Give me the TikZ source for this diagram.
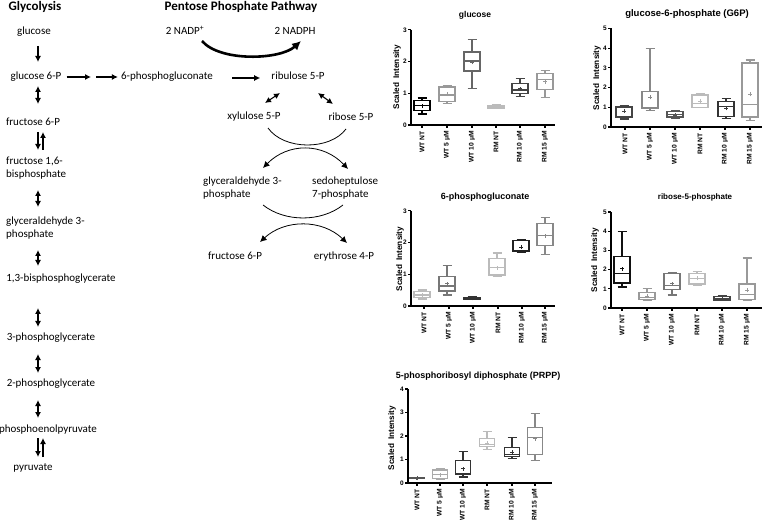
\documentclass[tikz,border=0pt]{standalone}
\usepackage{fontspec}
\setmainfont{Carlito}
\newfontfamily\plotfont{Liberation Sans}
\usetikzlibrary{arrows.meta,calc}
\definecolor{c111}{HTML}{111111}
\definecolor{c222}{HTML}{222222}
\definecolor{c333}{HTML}{333333}
\definecolor{c444}{HTML}{444444}
\definecolor{c555}{HTML}{555555}
\definecolor{c666}{HTML}{666666}
\definecolor{c777}{HTML}{777777}
\definecolor{c888}{HTML}{888888}
\definecolor{c999}{HTML}{999999}
\definecolor{caaa}{HTML}{AAAAAA}
\definecolor{cbbb}{HTML}{BBBBBB}
\newcommand\bw{8}
\newcommand\cw{4.5}
\newcommand\boxplt[8]{%
  \draw[bxl,draw=#2] ({#1-\bw},#4) rectangle ({#1+\bw},#6)
     ({#1-\bw},#5) -- ({#1+\bw},#5)
     (#1,#6) -- (#1,#7) ({#1-\cw},#7) -- ({#1+\cw},#7)
     (#1,#4) -- (#1,#3) ({#1-\cw},#3) -- ({#1+\cw},#3);
  \draw[mnl,draw=#2] ([xshift=-2pt]#1,#8) -- ([xshift=2pt]#1,#8)
     ([yshift=-2pt]#1,#8) -- ([yshift=2pt]#1,#8);
}
\begin{document}
\begin{tikzpicture}[x=1pt,y=-1pt,
  lbl/.style={inner sep=0pt, text height=8pt, text depth=2.5pt, font=\fontsize{11}{12.5}\selectfont},
  lbll/.style={inner sep=0pt, align=left, anchor=west, font=\fontsize{11}{12.5}\selectfont},
  hdr/.style={inner sep=0pt, font=\fontsize{13}{15}\selectfont\bfseries},
  arr/.style={line width=1.1pt, -{Latex[length=6pt,width=6pt]}},
  darr/.style={line width=1.1pt, {Latex[length=6pt,width=6pt]}-{Latex[length=6pt,width=6pt]}},
  arc/.style={line width=0.8pt},
  darc/.style={line width=0.8pt, {Latex[length=6.5pt,width=6.5pt]}-{Latex[length=6.5pt,width=6.5pt]}},
  nadarr/.style={line width=2.6pt, -{Latex[length=9pt,width=9pt]}},
  axl/.style={line width=1.2pt},
  bxl/.style={line width=1.3pt},
  mnl/.style={line width=1pt},
  tkl/.style={inner sep=0pt, anchor=east, font=\plotfont\bfseries\fontsize{6.5}{7}\selectfont},
  xlab/.style={inner sep=0pt, anchor=east, rotate=90, font=\plotfont\bfseries\fontsize{6.7}{7}\selectfont},
  ylab/.style={inner sep=0pt, rotate=90, font=\plotfont\bfseries\fontsize{8.2}{9}\selectfont},
  ptitle/.style={inner sep=0pt, font=\plotfont\bfseries\fontsize{#1}{11}\selectfont},
]
\fill[white] (0,0) rectangle (763,521);
\useasboundingbox (0,0) rectangle (763,521);

% ---------------- Glycolysis
\node[hdr] (hgly) at (35,7) {Glycolysis};
\node[lbl] (glc) at (34,32) {glucose};
\node[lbl] (g6p) at (36,77) {glucose 6-P};
\node[lbl] (f6p) at (33,123) {fructose 6-P};
\node[lbll] (fbp) at (6,168) {fructose 1,6-\\bisphosphate};
\node[lbll] (gap) at (6,228) {glyceraldehyde 3-\\phosphate};
\node[lbl] (bpg) at (61,279) {1,3-bisphosphoglycerate};
\node[lbl] (pgt) at (51,338) {3-phosphoglycerate};
\node[lbl] (pgw) at (51,384) {2-phosphoglycerate};
\node[lbl] (pep) at (48,430) {phosphoenolpyruvate};
\node[lbl] (pyr) at (33,468) {pyruvate};
\coordinate (gx) at (38,0);
\coordinate (gy) at (43,0);
\draw[arr] ($(glc.center -| gx)+(0,14)$) -- ($(g6p.center -| gx)+(0,-15)$);
\draw[darr] ($(g6p.center -| gx)+(0,9)$) -- ($(f6p.center -| gx)+(0,-19)$);
\draw[arr] ($(f6p.center -| gx)+(0,9)$) -- ($(fbp.center -| gx)+(0,-18)$);
\draw[arr] ($(fbp.center -| gy)+(0,-18)$) -- ($(f6p.center -| gy)+(0,9)$);
\draw[darr] ($(fbp.center -| gx)+(0,22)$) -- ($(gap.center -| gx)+(0,-21)$);
\draw[darr] ($(gap.center -| gx)+(0,22)$) -- ($(bpg.center -| gx)+(0,-13)$);
\draw[darr] ($(bpg.center -| gx)+(0,29)$) -- ($(pgt.center -| gx)+(0,-11)$);
\draw[darr] ($(pgt.center -| gx)+(0,16)$) -- ($(pgw.center -| gx)+(0,-11)$);
\draw[darr] ($(pgw.center -| gx)+(0,16)$) -- ($(pep.center -| gx)+(0,-12)$);
\draw[arr] ($(pep.center -| gx)+(0,8)$) -- ($(pyr.center -| gx)+(0,-11)$);
\draw[arr] ($(pyr.center -| gy)+(0,-11)$) -- ($(pep.center -| gy)+(0,8)$);

% ---------------- Pentose phosphate pathway
\node[hdr] (hppp) at (241,7) {Pentose Phosphate Pathway};
\node[lbl] (nadp) at (185,32) {2 NADP\textsuperscript{+}};
\node[lbl] (nadph) at (295,32) {2 NADPH};
\node[lbl] (pgn) at (167,77) {6-phosphogluconate};
\node[lbl] (ru5p) at (298,77) {ribulose 5-P};
\node[lbl] (xu5p) at (254,117) {xylulose 5-P};
\node[lbl] (r5p) at (351,118) {ribose 5-P};
\node[lbll] (g3p) at (203,188) {glyceraldehyde 3-\\phosphate};
\node[lbll] (s7p) at (312,188) {sedoheptulose\\7-phosphate};
\node[lbl] (f6q) at (235,257) {fructose 6-P};
\node[lbl] (e4p) at (344,257) {erythrose 4-P};

\coordinate (m1) at (91,77);
\coordinate (m2) at (96,77);
\draw[arr] ($(g6p.east)+(5,0)$) -- (m1);
\draw[arr] (m2) -- ($(pgn.west)+(-3,0)$);
\draw[arr] ($(pgn.east)+(19,1)$) -- ($(ru5p.west)+(-11,1)$);
\draw[darr] ($(ru5p.center)+(-18,16)$) -- ($(xu5p.center)+(11,-14)$);
\draw[darr] ($(ru5p.center)+(20,16)$) -- ($(r5p.center)+(-18,-14)$);
\draw[nadarr] ($(nadp.center)+(17,9)$) .. controls (220,62) and (280,60) .. ($(nadph.center)+(6,9)$);

\coordinate (a1s) at (268,128);
\coordinate (a1e) at (346,129);
\coordinate (a2s) at (263,168);
\coordinate (a2e) at (348,169);
\coordinate (a3s) at (263,205);
\coordinate (a3e) at (343,205);
\coordinate (a4s) at (260,242);
\coordinate (a4e) at (347,243);
\draw[arc] (a1s) .. controls (284,150.5) and (330,150.5) .. (a1e);
\draw[darc] (a2s) .. controls (288,142.5) and (323,142.5) .. (a2e);
\draw[arc] (a3s) .. controls (285,222.3) and (321,222.3) .. (a3e);
\draw[darc] (a4s) .. controls (285,219) and (322,219) .. (a4e);

% ---------------- Plot A: glucose
\node[ptitle=8.5] (pA-t) at (475,15) {glucose};
\node[ylab] (pA-yl) at (397,77) {Scaled\enspace Intensity};
\begin{scope}[yshift=-125pt, y=31.7pt]
  \draw[axl] (411,3) -- (411,0) -- (555,0);
  \foreach \v in {0,...,3} {\draw[axl] (411,\v) -- ++(-3pt,0pt);
    \node[tkl] (pA-y\v) at ([xshift=-4pt]411,\v) {\v};}
  \foreach \xx/\t [count=\i] in {422/WT NT,447/WT 5 μM,472/WT 10 μM,496/RM NT,520/RM 10 μM,545/RM 15 μM} {
    \draw[axl] (\xx,0) -- ++(0pt,-3pt);
    \node[xlab] (pA-x\i) at ([yshift=-6pt]\xx,0) {\t};}
  \boxplt{422}{black}{0.35}{0.45}{0.62}{0.78}{0.85}{0.6}
  \boxplt{447}{c999}{0.68}{0.75}{0.95}{1.2}{1.25}{0.97}
  \boxplt{472}{c666}{1.15}{1.7}{2.02}{2.3}{2.7}{1.98}
  \boxplt{496}{cbbb}{0.52}{0.54}{0.57}{0.6}{0.65}{0.57}
  \boxplt{520}{c444}{0.9}{1.0}{1.1}{1.32}{1.47}{1.15}
  \boxplt{545}{c999}{0.87}{1.12}{1.43}{1.62}{1.73}{1.37}
\end{scope}

% ---------------- Plot B: G6P
\node[ptitle=9.5] (pB-t) at (687,14) {glucose-6-phosphate (G6P)};
\node[ylab] (pB-yl) at (597,78) {Scaled\enspace Intensity};
\begin{scope}[yshift=-127pt, y=19.7pt]
  \draw[axl] (611,5) -- (611,0) -- (762,0);
  \foreach \v in {0,...,5} {\draw[axl] (611,\v) -- ++(-3pt,0pt);
    \node[tkl] (pB-y\v) at ([xshift=-4pt]611,\v) {\v};}
  \foreach \xx/\t [count=\i] in {625/WT NT,650/WT 5 μM,675/WT 10 μM,700/RM NT,725/RM 10 μM,750/RM 15 μM} {
    \draw[axl] (\xx,0) -- ++(0pt,-3pt);
    \node[xlab] (pB-x\i) at ([yshift=-6pt]\xx,0) {\t};}
  \boxplt{624}{c444}{0.4}{0.5}{1.0}{1.05}{1.1}{0.8}
  \boxplt{650}{c888}{0.85}{0.95}{1.0}{1.8}{4.0}{1.5}
  \boxplt{675}{c555}{0.45}{0.5}{0.65}{0.8}{0.85}{0.6}
  \boxplt{700}{cbbb}{1.0}{1.0}{1.2}{1.62}{1.7}{1.3}
  \boxplt{726}{c333}{0.42}{0.55}{1.05}{1.3}{1.45}{0.95}
  \boxplt{750}{c999}{0.32}{0.5}{1.15}{3.25}{3.4}{1.65}
\end{scope}

% ---------------- Plot C: 6-phosphogluconate
\node[ptitle=9] (pC-t) at (485,197) {6-phosphogluconate};
\node[ylab] (pC-yl) at (400,259) {Scaled\enspace Intensity};
\begin{scope}[yshift=-306pt, y=31.7pt]
  \draw[axl] (411,3) -- (411,0) -- (555,0);
  \foreach \v in {0,...,3} {\draw[axl] (411,\v) -- ++(-3pt,0pt);
    \node[tkl] (pC-y\v) at ([xshift=-4pt]411,\v) {\v};}
  \foreach \xx/\t [count=\i] in {424/WT NT,449/WT 5 μM,473/WT 10 μM,498/RM NT,522/RM 10 μM,545/RM 15 μM} {
    \draw[axl] (\xx,0) -- ++(0pt,-3pt);
    \node[xlab] (pC-x\i) at ([yshift=-6pt]\xx,0) {\t};}
  \boxplt{422}{cbbb}{0.22}{0.27}{0.35}{0.45}{0.5}{0.35}
  \boxplt{447}{c777}{0.35}{0.47}{0.63}{0.92}{1.28}{0.7}
  \boxplt{472}{c333}{0.2}{0.21}{0.24}{0.27}{0.28}{0.24}
  \boxplt{497}{cbbb}{0.92}{0.98}{1.22}{1.5}{1.67}{1.2}
  \boxplt{521}{c222}{1.68}{1.72}{1.75}{2.07}{2.08}{1.85}
  \boxplt{545}{c888}{1.62}{1.9}{2.22}{2.6}{2.8}{2.22}
\end{scope}

% ---------------- Plot D: ribose-5-phosphate
\node[ptitle=8] (pD-t) at (695,197) {ribose-5-phosphate};
\node[ylab] (pD-yl) at (595,260) {Scaled\enspace Intensity};
\begin{scope}[yshift=-308pt, y=19.2pt]
  \draw[axl] (611,5) -- (611,0) -- (762,0);
  \foreach \v in {0,...,5} {\draw[axl] (611,\v) -- ++(-3pt,0pt);
    \node[tkl] (pD-y\v) at ([xshift=-4pt]611,\v) {\v};}
  \foreach \xx/\t [count=\i] in {622/WT NT,647/WT 5 μM,672/WT 10 μM,697/RM NT,722/RM 10 μM,747/RM 15 μM} {
    \draw[axl] (\xx,0) -- ++(0pt,-3pt);
    \node[xlab] (pD-x\i) at ([yshift=-6pt]\xx,0) {\t};}
  \boxplt{622}{c111}{1.1}{1.3}{1.8}{2.7}{4.0}{2.05}
  \boxplt{647}{c999}{0.4}{0.45}{0.55}{0.8}{1.0}{0.6}
  \boxplt{672}{c777}{0.68}{0.95}{1.18}{1.8}{1.82}{1.25}
  \boxplt{697}{cbbb}{1.2}{1.25}{1.55}{1.78}{1.9}{1.55}
  \boxplt{722}{c444}{0.4}{0.42}{0.5}{0.6}{0.62}{0.5}
  \boxplt{747}{c999}{0.4}{0.45}{0.7}{1.25}{2.6}{0.92}
\end{scope}

% ---------------- Plot E: PRPP
\node[ptitle=9] (pE-t) at (478,376) {5-phosphoribosyl diphosphate (PRPP)};
\node[ylab] (pE-yl) at (392,438) {Scaled\enspace Intensity};
\begin{scope}[yshift=-483pt, y=23.5pt]
  \renewcommand\bw{7.5}
  \draw[axl] (408,4) -- (408,0) -- (552,0);
  \foreach \v in {0,...,4} {\draw[axl] (408,\v) -- ++(-3pt,0pt);
    \node[tkl] (pE-y\v) at ([xshift=-4pt]408,\v) {\v};}
  \foreach \xx/\t [count=\i] in {417/WT NT,440/WT 5 μM,463/WT 10 μM,487/RM NT,512/RM 10 μM,535/RM 15 μM} {
    \draw[axl] (\xx,0) -- ++(0pt,-3pt);
    \node[xlab] (pE-x\i) at ([yshift=-6pt]\xx,0) {\t};}
  \boxplt{417}{c555}{0.18}{0.19}{0.2}{0.22}{0.22}{0.2}
  \boxplt{440}{caaa}{0.15}{0.18}{0.35}{0.55}{0.6}{0.35}
  \boxplt{463}{c333}{0.25}{0.35}{0.38}{0.95}{1.35}{0.6}
  \boxplt{487}{cbbb}{1.42}{1.55}{1.65}{1.88}{2.18}{1.7}
  \boxplt{512}{c333}{1.05}{1.12}{1.2}{1.5}{1.95}{1.3}
  \boxplt{535}{c888}{0.95}{1.22}{1.95}{2.37}{2.97}{1.88}
\end{scope}
\end{tikzpicture}
\end{document}
